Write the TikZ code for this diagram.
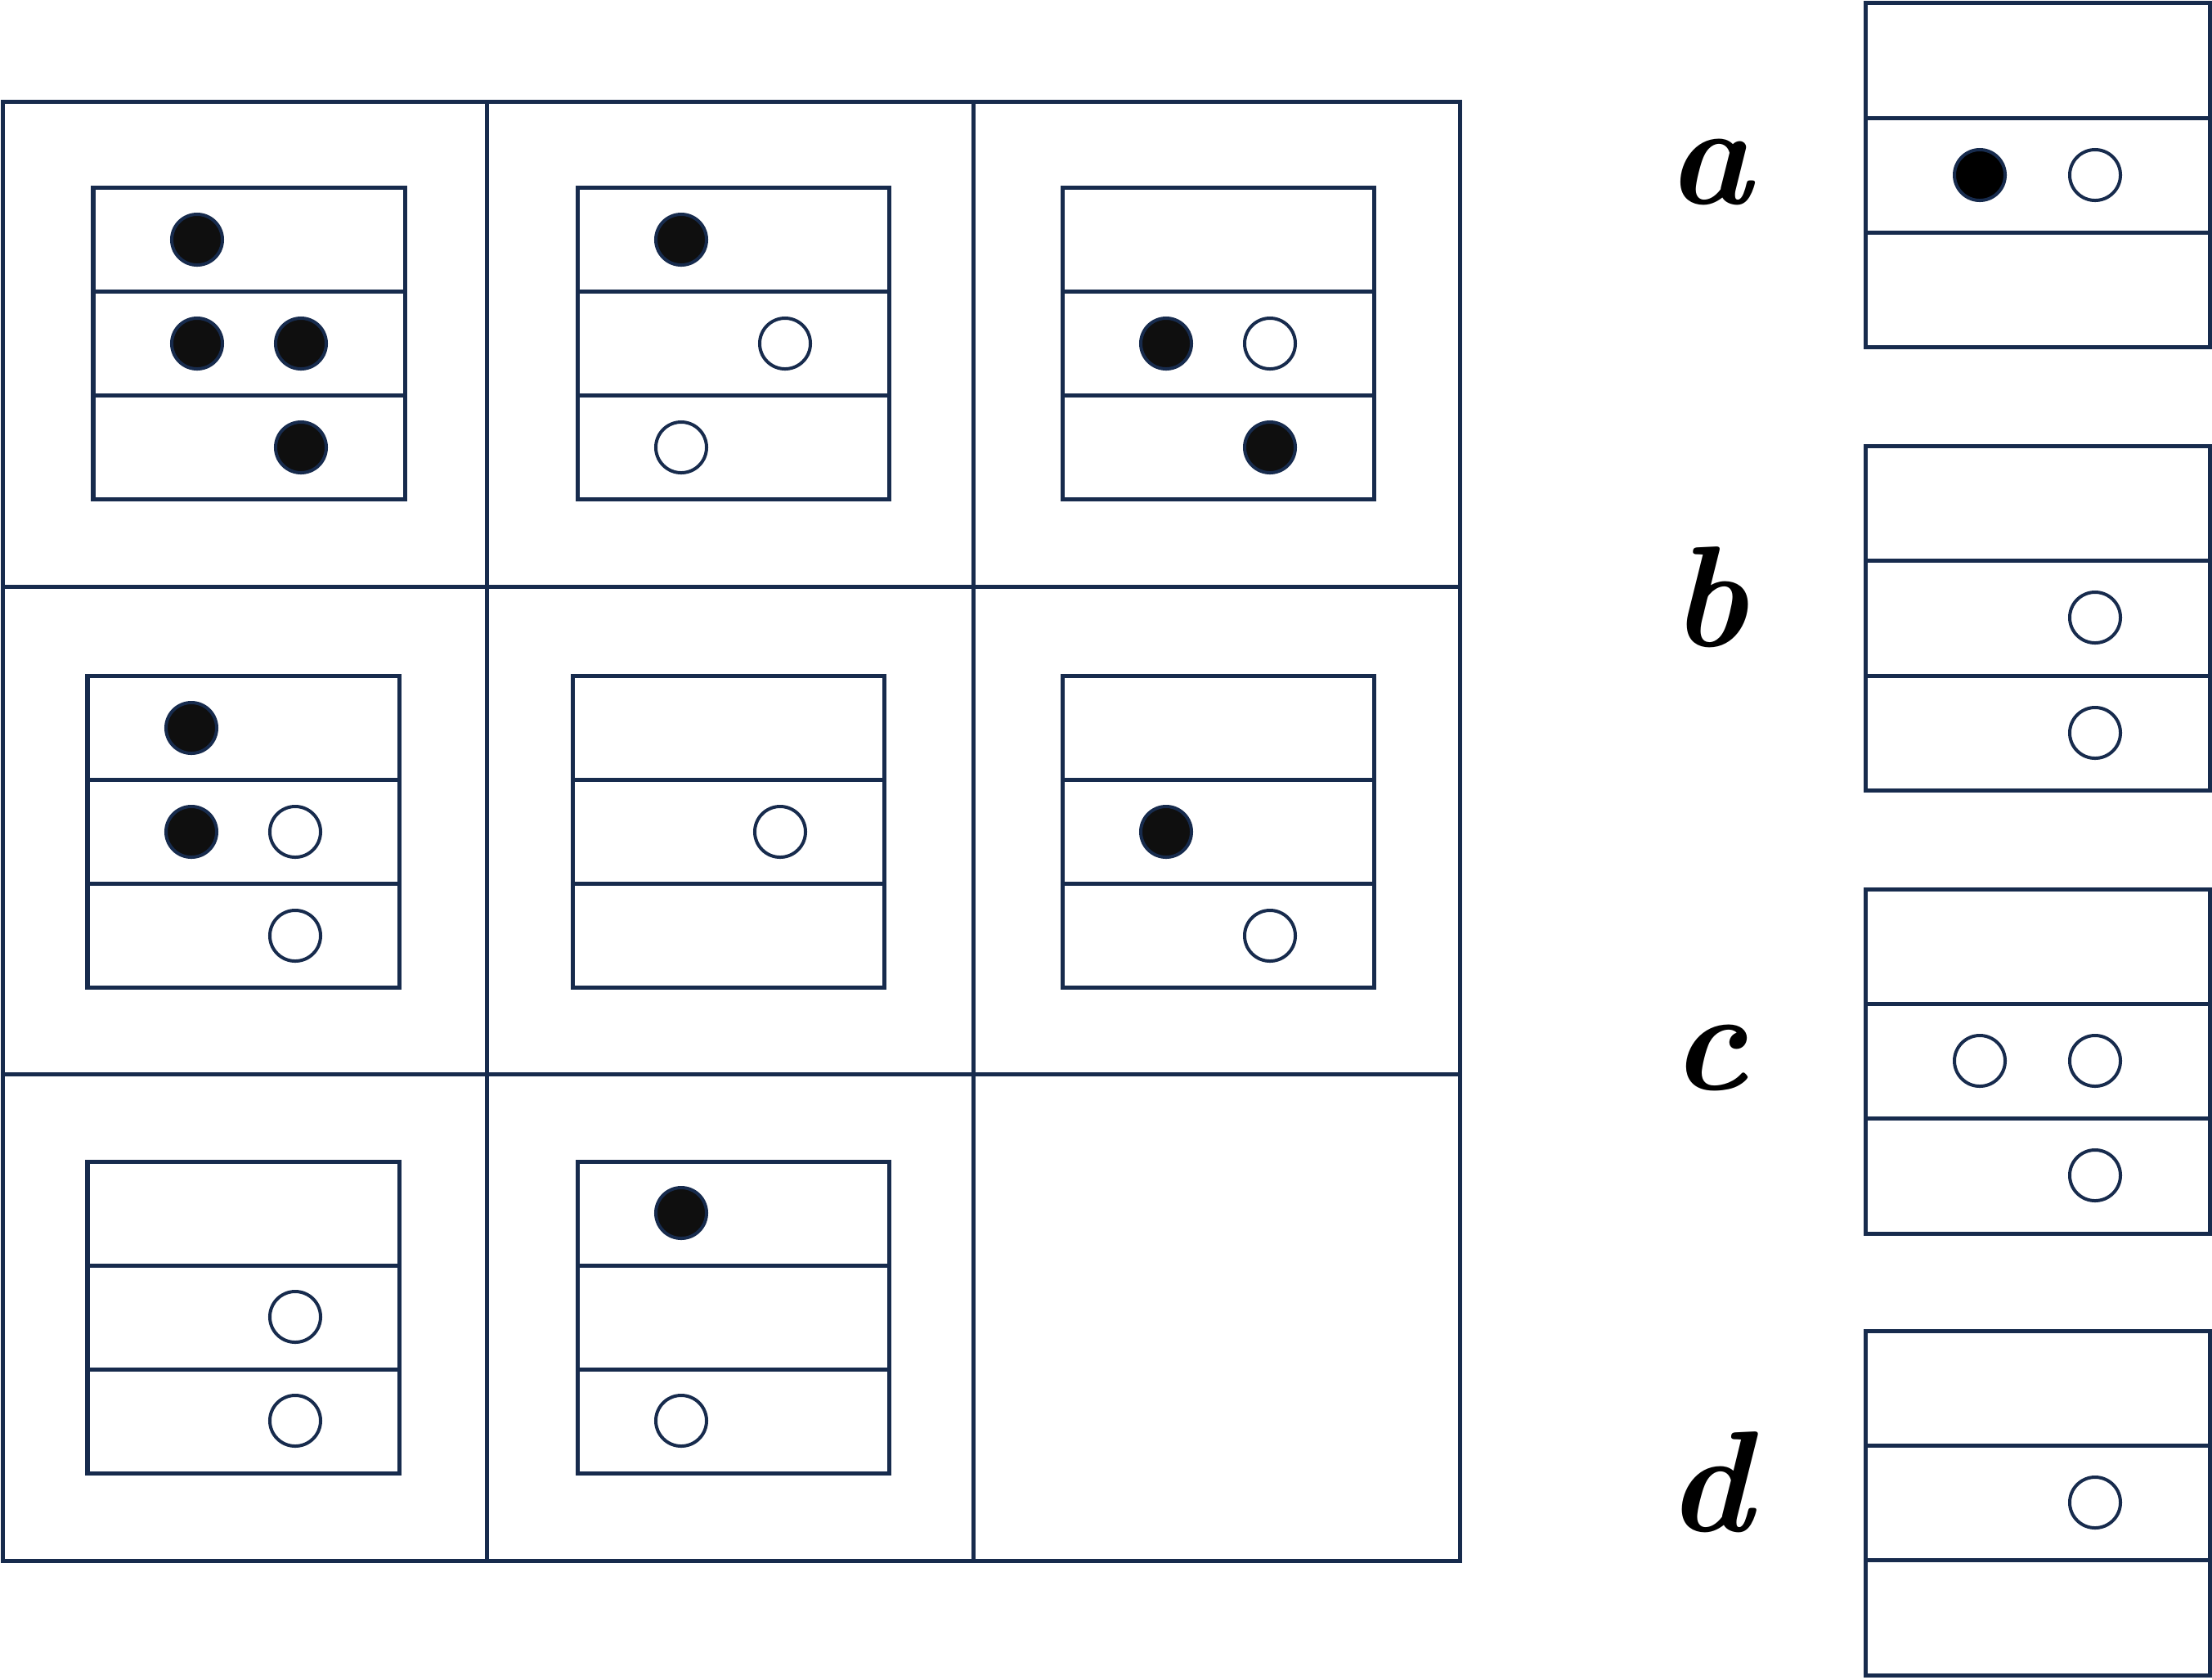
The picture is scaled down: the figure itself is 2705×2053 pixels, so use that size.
\documentclass[tikz,border=0pt]{standalone}
\usepackage{tikz}

\definecolor{navy}{HTML}{172B4D}
\definecolor{ink}{HTML}{0F0F0F}

\begin{document}
\begin{tikzpicture}[x = 0.01cm, y = -0.01cm,
	box/.style = {draw=navy, line width=0.5mm},
	full/.style = {circle, draw=navy, fill=ink, line width=0.4mm, minimum size=0.62cm, inner sep=0pt},
	empty/.style = {circle, draw=navy, fill=white, line width=0.4mm, minimum size=0.62cm, inner sep=0pt},
	letter/.style = {anchor=base, font=\fontsize{50}{60}\selectfont\bfseries\itshape},]

		\useasboundingbox (0,0) rectangle (2705,2053);

		% big grid
		\draw[box] (3.5,124) rectangle (1785,1908);
		\draw[box] (595,124) -- (595,1908) (1190,124) -- (1190,1908);
		\draw[box] (3.5,717.5) -- (1785,717.5) (3.5,1313) -- (1785,1313);

		% shelves in the grid
		\draw[box] (114,229) rectangle ++(381,381) (114,356) -- ++(381,0) (114,483) -- ++(381,0);
		\draw[box] (706,229) rectangle ++(381,381) (706,356) -- ++(381,0) (706,483) -- ++(381,0);
		\draw[box] (1299,229) rectangle ++(381,381) (1299,356) -- ++(381,0) (1299,483) -- ++(381,0);
		\draw[box] (107,826) rectangle ++(381,381) (107,953) -- ++(381,0) (107,1080) -- ++(381,0);
		\draw[box] (700,826) rectangle ++(381,381) (700,953) -- ++(381,0) (700,1080) -- ++(381,0);
		\draw[box] (1299,826) rectangle ++(381,381) (1299,953) -- ++(381,0) (1299,1080) -- ++(381,0);
		\draw[box] (107,1420) rectangle ++(381,381) (107,1547) -- ++(381,0) (107,1674) -- ++(381,0);
		\draw[box] (706,1420) rectangle ++(381,381) (706,1547) -- ++(381,0) (706,1674) -- ++(381,0);

		\node[full] (A1) at (241,293) {};
		\node[full] (A2) at (241,420) {};
		\node[full] (A3) at (368,420) {};
		\node[full] (A4) at (368,547) {};

		\node[full] (B1) at (833,293) {};
		\node[empty] (B2) at (960,420) {};
		\node[empty] (B3) at (833,547) {};

		\node[full] (C1) at (1426,420) {};
		\node[empty] (C2) at (1553,420) {};
		\node[full] (C3) at (1553,547) {};

		\node[full] (D1) at (234,890) {};
		\node[full] (D2) at (234,1017) {};
		\node[empty] (D3) at (361,1017) {};
		\node[empty] (D4) at (361,1144) {};

		\node[empty] (E1) at (954,1017) {};

		\node[full] (F1) at (1426,1017) {};
		\node[empty] (F2) at (1553,1144) {};

		\node[empty] (G1) at (361,1610) {};
		\node[empty] (G2) at (361,1737) {};

		\node[full] (H1) at (833,1483) {};
		\node[empty] (H2) at (833,1737) {};

		% answers
		\draw[box] (2281,3.5) rectangle ++(421,421) (2281,144) -- ++(421,0) (2281,284) -- ++(421,0);
		\draw[box] (2281,545) rectangle ++(421,421) (2281,685) -- ++(421,0) (2281,826) -- ++(421,0);
		\draw[box] (2281,1087) rectangle ++(421,421) (2281,1227) -- ++(421,0) (2281,1367) -- ++(421,0);
		\draw[box] (2281,1627) rectangle ++(421,421) (2281,1767) -- ++(421,0) (2281,1907) -- ++(421,0);

		\node[letter] (a) at (2090,249) {a};
		\node[letter] (b) at (2090,790) {b};
		\node[letter] (c) at (2090,1332) {c};
		\node[letter] (d) at (2090,1872) {d};

		\node[full, fill=black] (a1) at (2421,214) {};
		\node[empty] (a2) at (2562,214) {};

		\node[empty] (b1) at (2562,755) {};
		\node[empty] (b2) at (2562,896) {};

		\node[empty] (c1) at (2421,1297) {};
		\node[empty] (c2) at (2562,1297) {};
		\node[empty] (c3) at (2562,1437) {};

		\node[empty] (d1) at (2562,1837) {};

	\end{tikzpicture}
\end{document}
